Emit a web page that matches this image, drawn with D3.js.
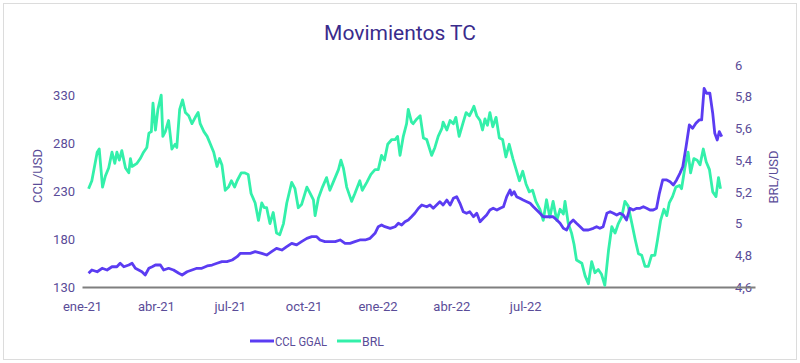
<!DOCTYPE html>
<html><head><meta charset="utf-8">
<script src="https://cdn.jsdelivr.net/npm/d3@7"></script>
<style>body{margin:0;background:#fff;}svg{display:block;font-family:Roboto,"Open Sans",sans-serif;}</style>
</head><body>
<svg id="c" width="800" height="363"></svg>
<script>
// category index (0..164) ; tick labels every 18 periods
const xTickIdx = [0,18,36,54,72,90,108];
const xTickLabels = ["ene-21","abr-21","jul-21","oct-21","ene-22","abr-22","jul-22"];
const leftTicks = [130,180,230,280,330];
const rightTicks = [4.6,4.8,5.0,5.2,5.4,5.6,5.8,6.0];
const seriesNames = ["CCL GGAL","BRL"];

const ccl = [[1.6,144.3],[2.4,147.7],[3.7,145.9],[4.9,149.5],[6.1,147.7],[7.3,151.1],[8.5,151.1],[9.3,154.7],[10.2,151.1],[11.4,152.9],[12.2,154.7],[13.0,149.5],[13.8,147.7],[14.6,145.9],[15.4,142.5],[16.3,149.5],[17.1,151.1],[17.9,152.9],[19.1,152.9],[19.9,147.7],[21.1,149.5],[22.3,147.7],[23.6,144.3],[24.4,142.5],[25.6,145.9],[26.8,147.7],[28.0,149.5],[29.2,149.5],[30.5,151.9],[31.7,152.9],[32.9,154.7],[34.1,156.4],[35.3,156.4],[36.6,158.1],[37.8,161.6],[38.6,165.1],[39.8,165.1],[41.0,165.1],[42.2,166.8],[43.8,165.1],[45.0,163.3],[46.2,166.8],[47.4,170.3],[48.7,168.5],[49.9,172.0],[51.1,175.5],[52.3,173.8],[53.5,177.2],[54.8,180.7],[56.0,182.4],[57.2,182.4],[58.0,179.0],[59.2,177.2],[60.4,177.2],[61.7,177.2],[62.9,179.0],[64.1,175.5],[65.3,175.5],[66.5,177.2],[67.7,179.0],[69.0,179.0],[70.2,180.7],[71.4,185.9],[72.2,192.8],[73.0,194.6],[73.8,192.8],[75.1,191.1],[76.3,192.8],[77.1,196.4],[77.9,194.6],[78.7,198.0],[79.5,199.8],[80.3,203.2],[81.1,206.8],[82.0,212.0],[82.8,215.4],[84.0,213.6],[84.8,215.4],[85.6,212.0],[86.4,215.4],[87.2,218.9],[88.0,215.4],[88.9,220.6],[89.7,215.4],[90.5,222.4],[91.3,224.1],[92.1,217.2],[92.9,208.4],[93.7,206.8],[94.5,208.4],[95.4,203.2],[96.2,206.8],[97.0,198.0],[97.8,201.6],[98.6,205.0],[99.4,210.2],[100.2,212.0],[101.1,210.2],[101.9,212.0],[102.7,213.6],[103.5,224.1],[104.3,231.0],[104.7,225.8],[105.3,229.3],[105.9,224.1],[106.7,222.4],[107.5,220.6],[108.4,218.9],[109.2,217.2],[110.0,213.6],[110.8,210.2],[111.6,206.8],[112.4,203.2],[113.2,203.2],[114.0,203.2],[114.8,203.2],[115.7,199.8],[116.5,196.4],[117.3,191.1],[118.1,189.4],[118.9,196.4],[119.7,199.8],[120.5,196.4],[121.4,192.8],[122.2,189.4],[123.4,189.4],[124.6,191.1],[125.4,192.8],[126.2,191.1],[127.0,192.8],[127.9,206.8],[128.7,208.4],[129.5,206.8],[130.3,205.0],[131.1,206.8],[131.9,205.0],[132.7,199.8],[133.5,212.0],[134.3,210.2],[135.2,212.0],[136.0,212.0],[136.8,213.6],[137.6,212.0],[138.4,210.2],[139.2,210.2],[140.0,212.0],[140.7,227.6],[141.5,241.5],[142.5,241.5],[143.3,239.7],[144.1,236.3],[144.9,241.5],[145.7,248.4],[146.4,255.3],[147.2,276.1],[148.0,298.8],[148.8,295.3],[149.6,300.5],[150.4,304.0],[151.0,304.0],[151.6,337.0],[152.2,331.8],[153.0,331.8],[153.7,310.9],[154.2,290.1],[154.8,283.1],[155.3,291.8],[155.9,286.6]];

const brl = [[1.6,5.22],[2.4,5.27],[3.7,5.45],[4.2,5.47],[5.0,5.23],[5.7,5.30],[6.5,5.35],[7.3,5.45],[8.0,5.38],[8.5,5.45],[9.1,5.40],[9.7,5.46],[10.6,5.35],[11.4,5.32],[11.8,5.41],[12.2,5.36],[13.4,5.38],[14.2,5.41],[15.0,5.45],[15.8,5.48],[16.3,5.57],[16.9,5.58],[17.3,5.76],[17.9,5.59],[18.5,5.72],[19.3,5.81],[19.7,5.55],[20.3,5.58],[21.1,5.65],[21.9,5.47],[22.7,5.50],[23.1,5.48],[23.8,5.72],[24.5,5.78],[25.2,5.70],[26.0,5.68],[26.8,5.63],[27.6,5.67],[28.3,5.70],[28.8,5.63],[29.7,5.58],[30.5,5.55],[31.3,5.50],[32.1,5.45],[32.9,5.36],[33.5,5.41],[34.1,5.37],[34.9,5.21],[35.7,5.23],[36.4,5.27],[37.2,5.23],[37.8,5.27],[38.8,5.32],[39.6,5.32],[40.5,5.31],[41.2,5.19],[42.2,5.13],[43.0,5.02],[43.8,5.13],[44.4,5.10],[45.0,5.10],[45.8,5.00],[46.6,5.07],[47.4,4.94],[48.2,4.93],[49.1,5.00],[49.9,5.13],[51.1,5.26],[51.9,5.22],[52.7,5.10],[53.5,5.12],[54.8,5.23],[55.6,5.19],[56.4,5.15],[56.8,5.05],[57.6,5.16],[58.6,5.23],[59.6,5.29],[60.4,5.21],[61.2,5.26],[62.5,5.34],[63.1,5.40],[63.7,5.35],[64.5,5.23],[65.7,5.14],[66.5,5.19],[67.7,5.27],[68.3,5.21],[69.4,5.26],[70.4,5.31],[71.4,5.34],[72.2,5.34],[73.0,5.43],[73.7,5.40],[74.5,5.50],[75.5,5.53],[76.3,5.53],[76.9,5.55],[77.5,5.43],[78.3,5.55],[79.1,5.63],[79.5,5.72],[80.3,5.64],[80.7,5.63],[81.6,5.66],[82.4,5.68],[83.2,5.54],[84.0,5.53],[85.2,5.43],[86.0,5.48],[86.8,5.55],[87.7,5.60],[88.0,5.64],[88.9,5.59],[89.7,5.65],[90.5,5.63],[91.1,5.67],[91.9,5.55],[92.8,5.63],[93.6,5.70],[94.4,5.68],[95.0,5.71],[95.5,5.74],[96.2,5.68],[97.0,5.65],[97.6,5.59],[98.2,5.66],[98.8,5.62],[99.4,5.70],[100.1,5.61],[100.9,5.67],[101.7,5.54],[102.5,5.53],[103.3,5.42],[104.1,5.50],[105.0,5.41],[105.8,5.34],[106.6,5.27],[107.4,5.33],[108.2,5.25],[109.0,5.20],[109.8,5.21],[110.6,5.14],[111.6,5.09],[112.4,5.02],[113.2,5.15],[114.0,5.04],[114.8,5.14],[115.7,5.02],[116.5,5.09],[117.3,5.06],[117.7,5.14],[118.5,5.00],[119.3,4.94],[119.9,4.87],[120.5,4.77],[121.8,4.75],[122.6,4.67],[123.4,4.62],[124.2,4.76],[125.0,4.69],[125.8,4.71],[126.6,4.68],[127.4,4.61],[128.3,4.83],[129.1,4.98],[129.9,4.94],[130.7,5.00],[131.5,5.04],[132.3,5.14],[133.1,5.11],[134.0,5.00],[134.8,4.90],[135.6,4.81],[136.4,4.80],[137.2,4.73],[138.0,4.73],[138.8,4.80],[139.6,4.80],[140.2,4.89],[141.0,5.02],[141.8,5.09],[142.5,5.05],[143.1,5.13],[143.9,5.17],[144.7,5.23],[145.6,5.24],[146.1,5.22],[146.9,5.35],[147.7,5.45],[148.3,5.32],[149.1,5.41],[149.9,5.40],[150.6,5.37],[151.4,5.47],[152.1,5.39],[152.9,5.34],[153.7,5.20],[154.5,5.17],[155.1,5.29],[155.6,5.22]];

const svg = d3.select("#c");
const cPurple = "#5b3cf2", cGreen = "#33f0aa", cText = "#5a4c98", cTitle = "#3a2b8c";

svg.append("rect").attr("x",3.5).attr("y",3.5).attr("width",793).attr("height",356)
  .attr("fill","#fff").attr("stroke","#dcdcdc").attr("stroke-width",1);

const x = d3.scaleLinear().domain([0,164]).range([82,755]);
const yL = d3.scaleLinear().domain([130,361.25]).range([287,65]);
const yR = d3.scaleLinear().domain([4.6,6.0]).range([287,65]);

svg.append("text").attr("x",400).attr("y",40).attr("text-anchor","middle")
  .attr("font-size",21).attr("fill",cTitle).text("Movimientos TC");

// left axis
const gl = svg.append("g").attr("transform","translate(78,0)")
  .call(d3.axisLeft(yL).tickValues(leftTicks).tickSize(0).tickPadding(3));
gl.select(".domain").remove();
gl.selectAll("text").attr("fill",cText).attr("font-size",13).style("font-family","Roboto");

// right axis
const fmtR = v => (Math.round(v*10)/10).toString().replace(".",",");
const gr = svg.append("g").attr("transform","translate(732,0)")
  .call(d3.axisRight(yR).tickValues(rightTicks).tickFormat(fmtR).tickSize(0).tickPadding(3));
gr.select(".domain").remove();
gr.selectAll("text").attr("fill",cText).attr("font-size",13).style("font-family","Roboto");

// x axis
const gx = svg.append("g").attr("transform","translate(0,287)")
  .call(d3.axisBottom(x).tickValues(xTickIdx).tickFormat((d,i)=>xTickLabels[i]).tickSize(0).tickPadding(15));
gx.select(".domain").attr("stroke","#7f7f7f").attr("stroke-width",2);
gx.selectAll("text").attr("fill",cText).attr("font-size",13).style("font-family","Roboto");

// axis titles
svg.append("text").attr("transform","translate(42,176) rotate(-90)").attr("text-anchor","middle")
  .attr("font-size",13).attr("fill",cText).text("CCL/USD");
svg.append("text").attr("transform","translate(778,177) rotate(-90)").attr("text-anchor","middle")
  .attr("font-size",13).attr("fill",cText).text("BRL/USD");

// lines
svg.append("path").datum(brl).attr("fill","none").attr("stroke",cGreen).attr("stroke-width",2.8)
  .attr("stroke-linejoin","round")
  .attr("d", d3.line().x(d=>x(d[0])).y(d=>yR(d[1])));
svg.append("path").datum(ccl).attr("fill","none").attr("stroke",cPurple).attr("stroke-width",2.8)
  .attr("stroke-linejoin","round")
  .attr("d", d3.line().x(d=>x(d[0])).y(d=>yL(d[1])));

// legend
const legend = [{name:seriesNames[0], c:cPurple, x:250, w:52},{name:seriesNames[1], c:cGreen, x:337, w:22}];
const lg = svg.append("g");
legend.forEach(l=>{
  lg.append("line").attr("x1",l.x).attr("x2",l.x+24).attr("y1",341).attr("y2",341)
    .attr("stroke",l.c).attr("stroke-width",3);
  lg.append("text").attr("x",l.x+25).attr("y",345.5).attr("font-size",12).attr("fill",cText)
    .attr("textLength",l.w).attr("lengthAdjust","spacingAndGlyphs").text(l.name);
});
</script>
</body></html>
